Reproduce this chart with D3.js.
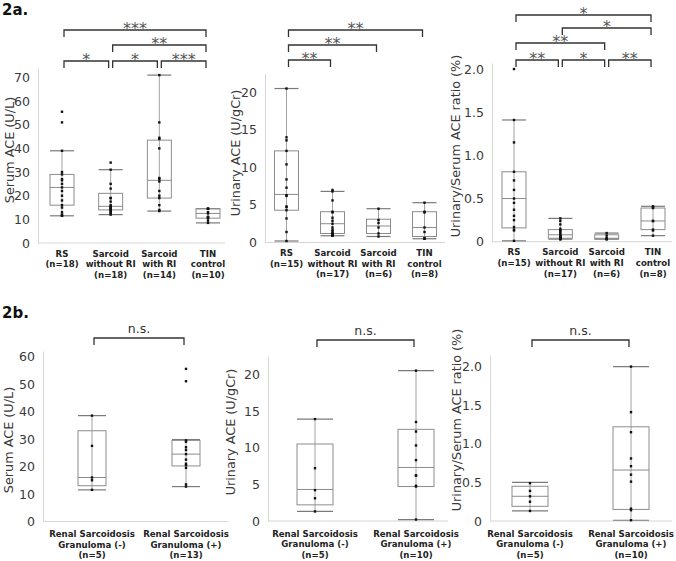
<!DOCTYPE html>
<html>
<head>
<meta charset="utf-8">
<script src="https://d3js.org/d3.v7.min.js"></script>
<style>
  body { margin: 0; background: #fff; }
  svg text { font-family: "DejaVu Sans", Verdana, sans-serif; }
</style>
</head>
<body>
<svg id="fig" width="676" height="561"></svg>
<script>
  // ---- data ----
  // box stats are [whisker low, Q1, median, Q3, whisker high]

  // 2a, serum ACE (U/L)
  const serumACats = [['RS', '(n=18)'], ['Sarcoid', 'without RI', '(n=18)'], ['Sarcoid', 'with RI', '(n=14)'], ['TIN', 'control', '(n=10)']]
  const serumAStats = [[11.5, 16, 23.5, 29, 39], [12, 14, 15.5, 21, 31], [13.5, 19, 26.5, 43.5, 71], [8.5, 10.5, 12.5, 14.5, 14.5]]
  const serumAPoints = [
    [55.5, 51, 39, 30, 29, 27, 26.5, 25, 23.5, 22, 20, 18, 16, 15, 13, 12, 11.5, 11.5],
    [34, 31, 25, 23, 19, 19, 17.5, 16, 15.5, 15, 15, 14.5, 14, 14, 13.5, 13, 12.5, 12],
    [71, 51, 44.5, 44, 40, 27.5, 27, 26, 22, 20, 19, 16, 14, 13.5],
    [14.5, 14.5, 14.5, 13, 12.5, 11, 11, 10.5, 9.5, 8.5]
  ]
  const serumAComps = [[0, 3, '***'], [1, 3, '**'], [0, 1, '*'], [1, 2, '*'], [2, 3, '***']]

  // 2a, urinary ACE (U/gCr)
  const urineACats = [['RS', '(n=15)'], ['Sarcoid', 'without RI', '(n=17)'], ['Sarcoid', 'with RI', '(n=6)'], ['TIN', 'control', '(n=8)']]
  const urineAStats = [[0.2, 4.3, 6.4, 12.2, 20.5], [0.9, 1.2, 2.5, 4.1, 6.8], [0.8, 1.2, 2.2, 3.1, 4.5], [0.5, 0.8, 2.0, 4.1, 5.3]]
  const urineAPoints = [
    [20.5, 14, 13.6, 12.2, 10.4, 8.4, 7.3, 6.3, 6.2, 4.8, 4.7, 4.3, 3.2, 1.4, 0.2],
    [7, 6.8, 5.6, 4.1, 4, 3.3, 2.9, 2.5, 2, 1.7, 1.5, 1.3, 1.2, 1.1, 1.0, 0.9, 0.9],
    [4.5, 3.0, 2.6, 2.0, 1.2, 0.8],
    [5.3, 4.1, 4.0, 2.0, 1.4, 0.6, 0.5, 0.5]
  ]
  const urineAComps = [[0, 3, '**'], [0, 2, '**'], [0, 1, '**']]

  // 2a, urinary/serum ACE ratio (%)
  const ratioACats = urineACats
  const ratioAStats = [[0.01, 0.16, 0.5, 0.81, 1.41], [0.03, 0.04, 0.08, 0.14, 0.27], [0.03, 0.03, 0.04, 0.08, 0.1], [0.07, 0.14, 0.24, 0.39, 0.41]]
  const ratioAPoints = [
    [2.0, 1.41, 1.15, 0.81, 0.71, 0.6, 0.5, 0.45, 0.37, 0.3, 0.25, 0.17, 0.14, 0.13, 0.01],
    [0.27, 0.24, 0.2, 0.15, 0.13, 0.12, 0.1, 0.08, 0.07, 0.06, 0.05, 0.05, 0.04, 0.04, 0.03, 0.03, 0.03],
    [0.1, 0.07, 0.04, 0.03, 0.03, 0.03],
    [0.41, 0.4, 0.39, 0.24, 0.24, 0.14, 0.13, 0.07]
  ]
  const ratioAComps = [[0, 3, '*'], [1, 3, '*'], [0, 2, '**'], [0, 1, '**'], [1, 2, '*'], [2, 3, '**']]

  // 2b, granuloma (-) vs (+)
  const serumBCats = [['Renal Sarcoidosis', 'Granuloma (-)', '(n=5)'], ['Renal Sarcoidosis', 'Granuloma (+)', '(n=13)']]
  const serumBStats = [[11.5, 13, 16, 33, 38.5], [12.7, 20.2, 24.5, 29.5, 29.8]]
  const serumBPoints = [[38.5, 27.5, 16, 15, 11.5], [55.5, 51, 29.5, 29, 27, 26, 24.5, 22.5, 21, 20.5, 19.5, 13.5, 12.7]]

  const urineBCats = [['Renal Sarcoidosis', 'Granuloma (-)', '(n=5)'], ['Renal Sarcoidosis', 'Granuloma (+)', '(n=10)']]
  const urineBStats = [[1.3, 2.2, 4.3, 10.5, 13.9], [0.2, 4.7, 7.3, 12.5, 20.5]]
  const urineBPoints = [[13.9, 7.2, 4.2, 3.1, 1.3], [20.5, 13.5, 12.2, 10.3, 8.3, 6.2, 6.2, 4.8, 4.7, 0.2]]

  const ratioBCats = urineBCats
  const ratioBStats = [[0.13, 0.19, 0.32, 0.45, 0.5], [0.01, 0.15, 0.66, 1.22, 2.0]]
  const ratioBPoints = [[0.49, 0.39, 0.32, 0.25, 0.13], [2.0, 1.41, 1.15, 0.81, 0.71, 0.6, 0.51, 0.16, 0.14, 0.01]]

  const nsComp = [[0, 1, 'n.s.']]

  const ticks70 = [0, 10, 20, 30, 40, 50, 60, 70]
  const ticks60 = [0, 10, 20, 30, 40, 50, 60]
  const ticks20 = [0, 5, 10, 15, 20]
  const ticksRatio = [0, 0.5, 1.0, 1.5, 2.0]

  const svg = d3.select('#fig')
  const fmtRatio = d => d === 0 ? '0' : d3.format('.1f')(d)

  function drawPanel(p) {
    const g = svg.append('g')
    const x = d3.scalePoint().domain(d3.range(p.cats.length)).range(p.xRange)
    const y = d3.scaleLinear().domain(p.yDomain).range(p.yRange)

    // y axis
    const ax = g.append('g')
      .attr('transform', 'translate(' + p.axisX + ',0)')
      .call(d3.axisLeft(y).tickValues(p.ticks).tickFormat(p.fmt || d3.format('d')).tickSize(0).tickPadding(8))
    ax.select('.domain').attr('stroke', '#d6d6d6')
    ax.selectAll('text')
      .attr('font-size', 12.5)
      .attr('font-family', '"DejaVu Sans", sans-serif')
      .attr('fill', '#3a3a3a')

    // x axis line
    g.append('line')
      .attr('x1', p.axisX).attr('x2', p.axisEnd)
      .attr('y1', y(0)).attr('y2', y(0))
      .attr('stroke', '#d6d6d6')

    // axis title
    g.append('text')
      .attr('transform', 'translate(' + p.titleX + ',' + p.titleY + ')rotate(-90)')
      .attr('text-anchor', 'middle')
      .attr('dominant-baseline', 'central')
      .attr('font-size', 12.8)
      .attr('fill', '#3a3a3a')
      .text(p.title)

    // category labels
    p.cats.forEach(function (lines, i) {
      const t = g.append('text')
        .attr('text-anchor', 'middle')
        .attr('font-size', 8.6)
        .attr('font-weight', 'bold')
        .attr('fill', '#222')
      lines.forEach(function (s, k) {
        t.append('tspan').attr('x', x(i)).attr('y', y(0) + p.labelDy + k * 10.7).text(s)
      })
    })

    // boxes and whiskers
    const hw = p.boxW / 2
    p.stats.forEach(function (s, i) {
      const cx = x(i)
      g.append('line')
        .attr('x1', cx).attr('x2', cx).attr('y1', y(s[0])).attr('y2', y(s[4]))
        .attr('stroke', '#8c8c8c').attr('stroke-width', 0.8)
      ;[s[0], s[4]].forEach(function (v) {
        g.append('line')
          .attr('x1', cx - hw).attr('x2', cx + hw).attr('y1', y(v)).attr('y2', y(v))
          .attr('stroke', '#7a7a7a').attr('stroke-width', 1.2)
      })
      g.append('rect')
        .attr('x', cx - hw).attr('width', p.boxW)
        .attr('y', y(s[3])).attr('height', y(s[1]) - y(s[3]))
        .attr('fill', 'none').attr('stroke', '#8c8c8c').attr('stroke-width', 1)
      g.append('line')
        .attr('x1', cx - hw).attr('x2', cx + hw).attr('y1', y(s[2])).attr('y2', y(s[2]))
        .attr('stroke', '#8c8c8c').attr('stroke-width', 1)
    })

    // individual points
    p.points.forEach(function (arr, i) {
      g.selectAll(null).data(arr).join('rect')
        .attr('x', x(i) - 1.2).attr('y', d => y(d) - 1.2)
        .attr('width', 2.4).attr('height', 2.4)
        .attr('fill', '#111')
    })

    // significance brackets
    p.comps.forEach(function (c, k) {
      const by = p.bracketY[k]
      const x1 = x(c[0]) + 2, x2 = x(c[1]) - 2
      g.append('path')
        .attr('d', 'M' + x1 + ',' + (by + 7) + 'V' + by + 'H' + x2 + 'V' + (by + 7))
        .attr('fill', 'none').attr('stroke', '#333').attr('stroke-width', 1.3)
      const ns = c[2] === 'n.s.'
      g.append('text')
        .attr('x', (x1 + x2) / 2).attr('y', ns ? by - 5 : by + 4)
        .attr('text-anchor', 'middle')
        .attr('font-size', ns ? 12.5 : 16)
        .attr('font-family', '"DejaVu Sans", sans-serif')
        .attr('fill', ns ? '#333' : '#555')
        .text(c[2])
    })
  }

  drawPanel({ cats: serumACats, stats: serumAStats, points: serumAPoints, comps: serumAComps,
    xRange: [62, 208], axisX: 38, axisEnd: 225, yDomain: [0, 74], yRange: [243, 68], ticks: ticks70,
    title: 'Serum ACE (U/L)', titleX: 9, titleY: 150, boxW: 24, labelDy: 13.5, bracketY: [30, 45, 61, 61, 61] })

  drawPanel({ cats: urineACats, stats: urineAStats, points: urineAPoints, comps: urineAComps,
    xRange: [286.5, 424.5], axisX: 265, axisEnd: 445, yDomain: [0, 22.5], yRange: [242.5, 73.5], ticks: ticks20,
    title: 'Urinary ACE (U/gCr)', titleX: 235, titleY: 153, boxW: 24, labelDy: 13.5, bracketY: [30, 45, 60] })

  drawPanel({ cats: ratioACats, stats: ratioAStats, points: ratioAPoints, comps: ratioAComps,
    xRange: [514, 653], axisX: 492, axisEnd: 672, yDomain: [0, 2.07], yRange: [241.7, 63], ticks: ticksRatio, fmt: fmtRatio,
    title: 'Urinary/Serum ACE ratio (%)', titleX: 455, titleY: 146, boxW: 24, labelDy: 13.5, bracketY: [15, 28, 43, 60, 60, 60] })

  drawPanel({ cats: serumBCats, stats: serumBStats, points: serumBPoints, comps: nsComp,
    xRange: [92, 186], axisX: 43, axisEnd: 228, yDomain: [0, 62], yRange: [521.5, 351], ticks: ticks60,
    title: 'Serum ACE (U/L)', titleX: 8, titleY: 440, boxW: 28, labelDy: 15.5, bracketY: [338] })

  drawPanel({ cats: urineBCats, stats: urineBStats, points: urineBPoints, comps: nsComp,
    xRange: [315, 416], axisX: 268, axisEnd: 448, yDomain: [0, 22.5], yRange: [521, 356], ticks: ticks20,
    title: 'Urinary ACE (U/gCr)', titleX: 230, titleY: 432, boxW: 36, labelDy: 15.5, bracketY: [340] })

  drawPanel({ cats: ratioBCats, stats: ratioBStats, points: ratioBPoints, comps: nsComp,
    xRange: [530, 631], axisX: 490, axisEnd: 672, yDomain: [0, 2.15], yRange: [521, 355], ticks: ticksRatio, fmt: fmtRatio,
    title: 'Urinary/Serum ACE ratio (%)', titleX: 456, titleY: 420, boxW: 36, labelDy: 15.5, bracketY: [340] })

  // panel tags
  svg.append('text').attr('x', 2).attr('y', 15)
    .attr('font-family', '"Liberation Sans", Arial, sans-serif')
    .attr('font-size', 15).attr('font-weight', 'bold').attr('fill', '#111').text('2a.')
  svg.append('text').attr('x', 2).attr('y', 318)
    .attr('font-family', '"Liberation Sans", Arial, sans-serif')
    .attr('font-size', 15).attr('font-weight', 'bold').attr('fill', '#111').text('2b.')
</script>
</body>
</html>
